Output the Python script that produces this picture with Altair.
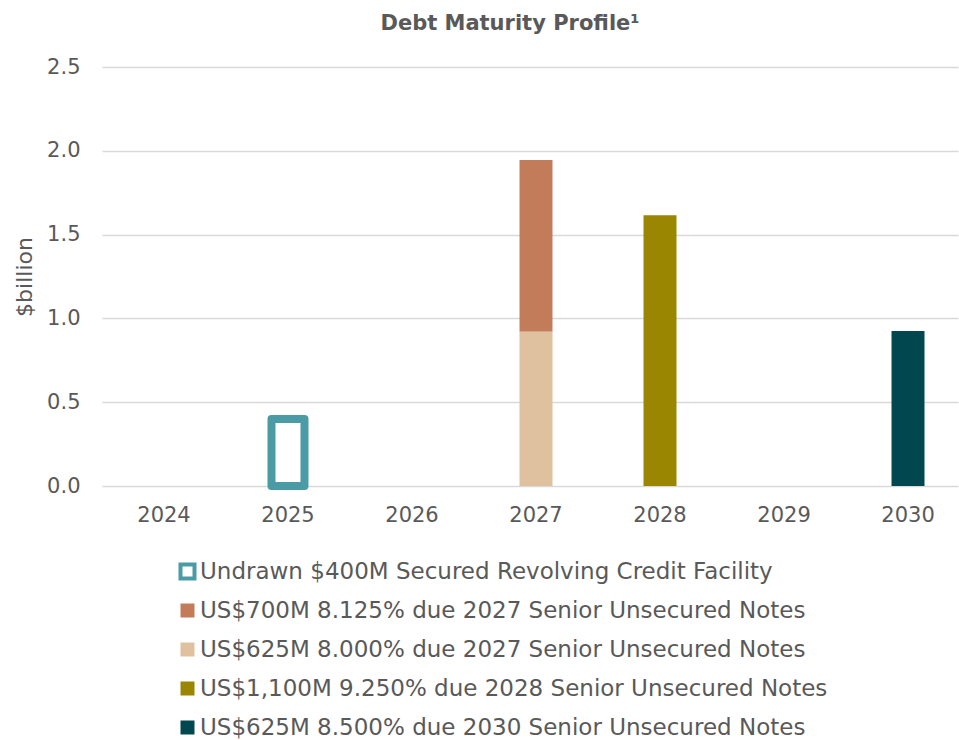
import altair as alt
import pandas as pd

years = ["2024", "2025", "2026", "2027", "2028", "2029", "2030"]
series = [
    "Undrawn $400M Secured Revolving Credit Facility",
    "US$700M 8.125% due 2027 Senior Unsecured Notes",
    "US$625M 8.000% due 2027 Senior Unsecured Notes",
    "US$1,100M 9.250% due 2028 Senior Unsecured Notes",
    "US$625M 8.500% due 2030 Senior Unsecured Notes",
]
bar_years = ["2025", "2027", "2027", "2028", "2030"]
bar_series = series
bar_values = [0.40, 1.025, 0.92, 1.615, 0.925]
bar_order = [0, 2, 1, 0, 0]
title_text = ["Debt Maturity Profile¹"]

fills = ["#ffffff", "#C27C5A", "#E0C19F", "#9A8600", "#01474F"]
strokes = ["#4A9BA6", "transparent", "transparent", "transparent", "transparent"]

TXT = "#595959"
FONT = "DejaVu Sans"

df = pd.DataFrame({"year": bar_years, "series": bar_series,
                   "value": bar_values, "order": bar_order})

leg = alt.Legend(
    title=None, orient="none", legendX=74, legendY=493, direction="vertical",
    symbolType="square", symbolSize=196, symbolStrokeWidth=4,
    labelFontSize=23, labelColor=TXT, labelFont=FONT, labelLimit=0,
    rowPadding=8, labelOffset=1, padding=0,
)

bars = alt.Chart(df).mark_bar(strokeWidth=8, strokeJoin="round").encode(
    x=alt.X("year:N",
            scale=alt.Scale(domain=years, paddingInner=0.734, paddingOuter=0.3185, align=0.576),
            axis=alt.Axis(title=None, labelAngle=0, domain=False, ticks=False, grid=False,
                          labelPadding=18, labelFontSize=21, labelColor=TXT, labelFont=FONT)),
    y=alt.Y("value:Q", stack="zero",
            scale=alt.Scale(domain=[0, 2.5], nice=False),
            axis=alt.Axis(title="$billion", values=[0, 0.5, 1, 1.5, 2, 2.5], format=".1f",
                          domain=False, ticks=False, labelPadding=22, labelFontSize=21,
                          labelColor=TXT, labelFont=FONT, titleFont=FONT, titleFontSize=22,
                          titleFontWeight="normal", titleColor=TXT, titlePadding=10,
                          gridColor="#D9D9D9", gridWidth=1.5)),
    fill=alt.Fill("series:N", scale=alt.Scale(domain=series, range=fills), legend=leg),
    stroke=alt.Stroke("series:N", scale=alt.Scale(domain=series, range=strokes), legend=leg),
    order=alt.Order("order:Q"),
)

title = alt.Chart(pd.DataFrame({"t": title_text})).mark_text(
    font=FONT, fontSize=21, fontWeight="bold", color=TXT, align="center",
    baseline="alphabetic",
).encode(text="t:N", x=alt.value(408), y=alt.value(-37))

chart = alt.layer(bars, title).properties(
    width=856, height=419,
    autosize=alt.AutoSizeParams(type="none"),
    padding={"left": 102, "top": 67, "right": 1, "bottom": 254},
).configure_view(stroke=None)

chart.save("out.html", embed_options={"renderer": "svg", "actions": False})
